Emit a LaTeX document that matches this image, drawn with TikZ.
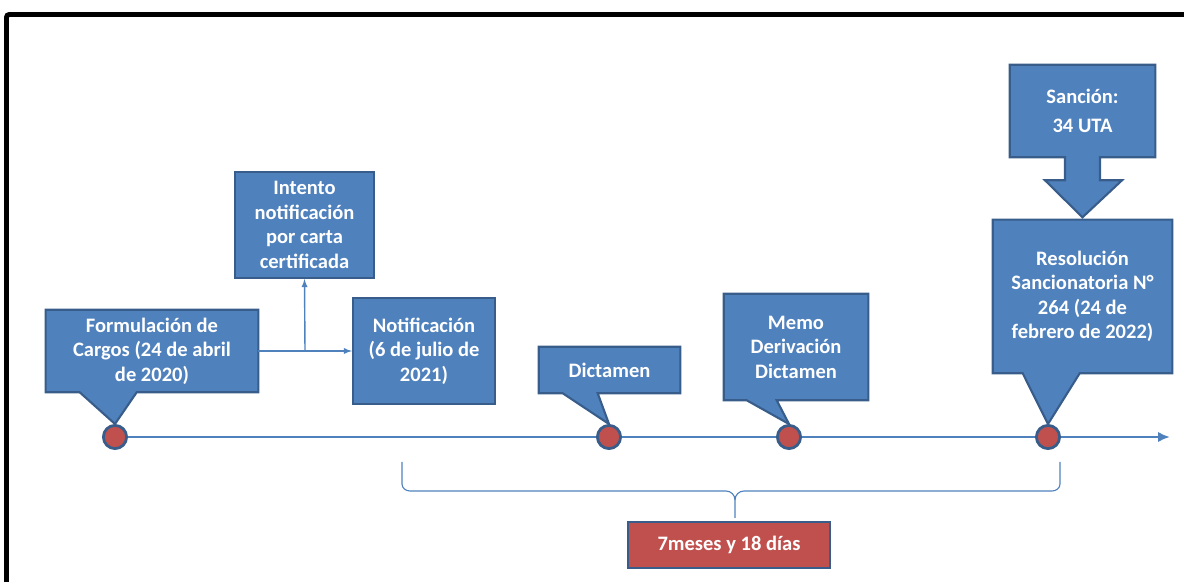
\documentclass[tikz,border=0pt]{standalone}
\usepackage{fontspec}
\setmainfont{Carlito}
\usetikzlibrary{arrows,arrows.meta,calc,positioning,backgrounds}
\definecolor{azul}{HTML}{4F81BD}
\definecolor{borde}{HTML}{385D8A}
\definecolor{rojo}{HTML}{C0504D}
\tikzset{
  texto/.style={text=white,font=\bfseries\fontsize{14.6}{17.4}\selectfont,align=center,inner sep=0pt},
  caja/.style={texto,fill=azul,draw=borde,line width=1.5pt},
  globo/.style={texto},
  forma/.style={fill=azul,draw=borde,line width=1.5pt},
  hito/.style={circle,fill=rojo,draw=borde,line width=2pt,minimum size=0.58cm,inner sep=0pt},
  linea/.style={azul,line width=2pt},
  flecha/.style={azul,line width=1pt,-latex}
}

\begin{document}
\begin{tikzpicture}[x=0.025cm,y=-0.025cm]
\useasboundingbox (0,0) rectangle (1184,582);
\draw [line width=3.5pt,rounded corners=2pt] (6.5,582)--(6.5,14.5)--(1184,14.5);

% hitos
\coordinate (fin) at (1170,437);
\node[hito] (h1) at (115,437) {};
\node[hito] (h2) at (609,437) {};
\node[hito] (h3) at (789,437) {};
\node[hito] (h4) at (1048,437) {};

% cajas
\node[globo,minimum width=5.3cm,minimum height=2.05cm] (form) at (152,351) {Formulación de\\Cargos (24 de abril\\de 2020)};
\node[caja,minimum width=3.475cm,minimum height=2.65cm] (intento) at (304.5,225) {Intento\\notificación\\por carta\\certificada};
\node[caja,minimum width=3.55cm,minimum height=2.65cm] (notif) at (424,351) {Notificación\\(6 de julio de\\2021)};
\node[globo,minimum width=3.525cm,minimum height=1.15cm] (dict) at (609.5,370) {Dictamen};
\node[globo,minimum width=3.6cm,minimum height=2.65cm] (memo) at (796,347) {Memo\\Derivación\\Dictamen};
\node[globo,minimum width=3.625cm,minimum height=2.3cm] (sancion) at (1082.5,111) {Sanción:\\[3pt]34 UTA};
\node[globo,minimum width=4.475cm,minimum height=3.825cm] (resol) at (1082.5,296.5) {Resolución\\Sancionatoria N°\\264 (24 de\\febrero de 2022)};
\node[caja,fill=rojo,minimum width=5.05cm,minimum height=1.15cm] (total) at (729,545) {7meses y 18 días};

\coordinate (rama) at (305,351);
\draw [flecha] (form.east)--(notif.west);
\draw [flecha] (rama)--(intento.south);

\begin{scope}[on background layer]
\draw [linea,-{Latex[length=0.3cm,width=0.26cm]}] (h1.center)--(fin);
\draw [forma] (form.north west)--(form.north east)--(form.south east)--($(form.south west)+(91,0)$)--(h1.north)--($(form.south west)+(34,0)$)--(form.south west)--cycle;
\draw [forma] (dict.north west)--(dict.north east)--(dict.south east)--($(dict.south west)+(59,0)$)--(h2.north)--($(dict.south west)+(24,0)$)--(dict.south west)--cycle;
\draw [forma] (memo.north west)--(memo.north east)--(memo.south east)--($(memo.south west)+(53,0)$)--(h3.north)--($(memo.south west)+(23,0)$)--(memo.south west)--cycle;
\draw [forma] (resol.north west)--(resol.north east)--(resol.south east)--($(resol.south west)+(87,0)$)--(h4.north)--($(resol.south west)+(30,0)$)--(resol.south west)--cycle;
\draw [forma] (sancion.north west)--(sancion.north east)--(sancion.south east)--($(sancion.south)+(17.5,0)$)--($(sancion.south)+(17.5,23)$)--($(sancion.south)+(39.5,23)$)--($(sancion.south)+(0,60)$)--($(sancion.south)+(-37.5,23)$)--($(sancion.south)+(-17.5,23)$)--($(sancion.south)+(-17.5,0)$)--(sancion.south west)--cycle;
\end{scope}

% llave
\draw [azul,line width=0.8pt] (402,462)--(402,484) to[out=-90,in=180] (410,491)--(726,491) to[out=0,in=90] (735,500)--(735,518);
\draw [azul,line width=0.8pt] (1060,462)--(1060,484) to[out=-90,in=0] (1052,491)--(744,491) to[out=180,in=90] (735,500);
\end{tikzpicture}
\end{document}
